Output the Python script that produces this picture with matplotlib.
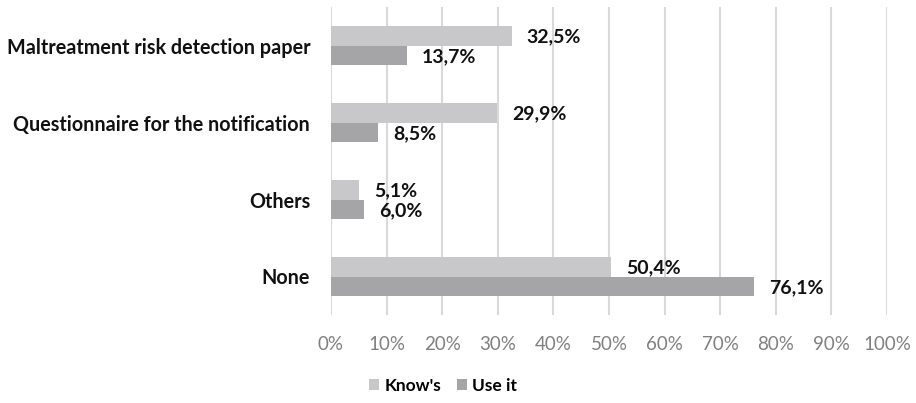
import matplotlib
matplotlib.use("Agg")
import matplotlib.pyplot as plt
import numpy as np

categories = ["Maltreatment risk detection paper", "Questionnaire for the notification", "Others", "None"]
knows = [32.5, 29.9, 5.1, 50.4]
use_it = [13.7, 8.5, 6.0, 76.1]
series_names = ["Know's", "Use it"]
xticks = list(range(0, 101, 10))

plt.rcParams['font.family'] = ['Lato', 'DejaVu Sans']

fig = plt.figure(figsize=(9.16, 4.03), dpi=100)
ax = fig.add_axes([331/916, 1 - 315/403, (887 - 331)/916, (315 - 7)/403])

y = np.arange(len(categories))
h = 0.255
c_know = "#c8c8ca"
c_use = "#a5a5a7"

b1 = ax.barh(y - h/2, knows, height=h, color=c_know, label=series_names[0], zorder=3)
b2 = ax.barh(y + h/2, use_it, height=h, color=c_use, label=series_names[1], zorder=3)

for bars, vals in ((b1, knows), (b2, use_it)):
    for bar, v in zip(bars, vals):
        ax.text(v + 2.7, bar.get_y() + bar.get_height()/2 + 0.02,
                f"{v:.1f}%".replace(".", ","), va="center", ha="left",
                fontsize=14, fontweight="bold", color="#111111", zorder=4)

ax.set_ylim(len(categories) - 0.5, -0.5)
ax.set_xlim(0, 100)
ax.set_xticks(xticks)
ax.set_xticklabels([f"{t}%" for t in xticks], color="#808080", fontsize=13.5)
ax.set_yticks(y)
ax.set_yticklabels(categories, fontsize=14.2, fontweight="bold", color="#111111")
ax.tick_params(axis="both", length=0)
ax.tick_params(axis="x", pad=15)
ax.tick_params(axis="y", pad=15)
ax.grid(axis="x", color="#d9d9d9", linewidth=1.5, zorder=0)
for s in ax.spines.values():
    s.set_visible(False)

leg = fig.legend(handles=[b1, b2], labels=series_names, loc="center",
                 bbox_to_anchor=(443/916, 1 - 386/403), ncol=2, frameon=False,
                 prop={"weight": "bold", "size": 12.5}, handlelength=0.6,
                 handleheight=0.6, handletextpad=0.3, columnspacing=0.9)

fig.savefig("out.png", dpi=100)
